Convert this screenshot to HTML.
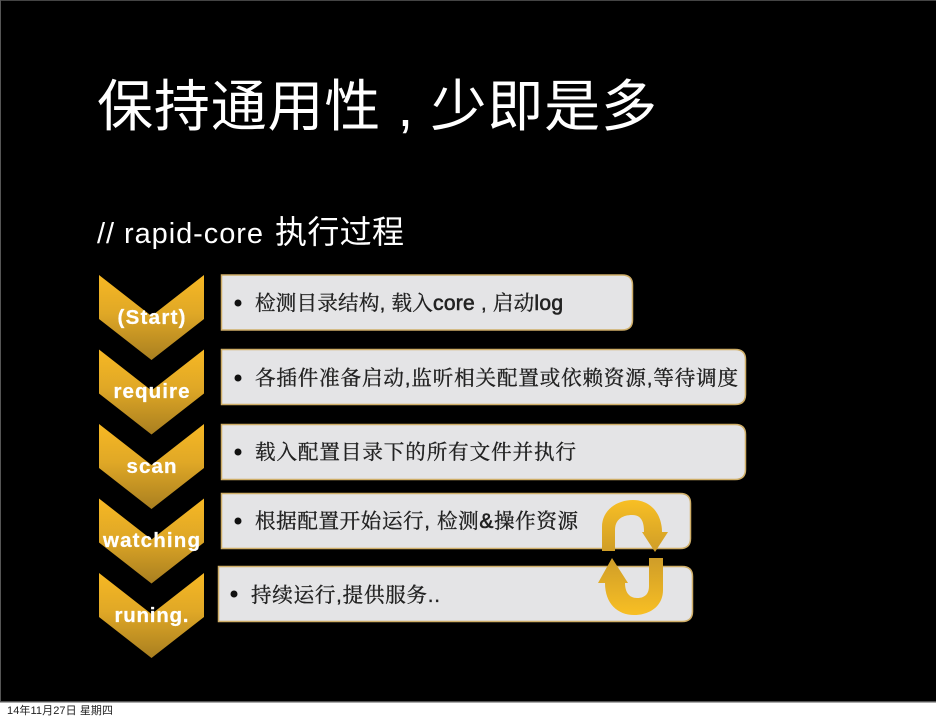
<!DOCTYPE html>
<html lang="zh">
<head>
<meta charset="utf-8">
<title>保持通用性，少即是多</title>
<style>
html,body{margin:0;padding:0;background:#fff;width:936px;height:720px;overflow:hidden}
svg{display:block}
.cn{font-family:"Liberation Sans","Noto Sans CJK SC",sans-serif}
.body{font-family:"Liberation Sans","Noto Serif CJK SC",serif;font-size:20.500px;fill:#222;stroke:#222;stroke-width:.35px}
.lat{font-size:21px;stroke-width:.6px}
.lab{font-family:"Liberation Sans",sans-serif;font-weight:bold;font-size:20.500px;fill:#fff;text-anchor:middle;stroke:#fff;stroke-width:.25px}
.soft{filter:blur(.35px)}
</style>
</head>
<body>
<svg width="936" height="720" viewBox="0 0 936 720" xmlns="http://www.w3.org/2000/svg">
<defs>
<linearGradient id="g" x1="0" y1="0" x2="0" y2="1">
<stop offset="0" stop-color="#f7b824"/><stop offset="0.45" stop-color="#e0a826"/><stop offset="1" stop-color="#a97f20"/>
</linearGradient>
<linearGradient id="a" x1="0" y1="0" x2="0" y2="1">
<stop offset="0" stop-color="#f8bf24"/><stop offset="1" stop-color="#cf9d28"/>
</linearGradient>
<linearGradient id="b" x1="0" y1="1" x2="0" y2="0">
<stop offset="0" stop-color="#f8bf24"/><stop offset="1" stop-color="#cf9d28"/>
</linearGradient>
<path id="ch" d="M99 0 L151.500 41 L204 0 V44 L151.500 85 L99 44 Z" fill="url(#g)"/>
</defs>
<rect x="0" y="0" width="936" height="702" fill="#000"/>
<rect x="0" y="0" width="936" height="1" fill="#444"/>
<rect x="0" y="0" width="1" height="702" fill="#555"/>
<rect x="0" y="701" width="936" height="1.500" fill="#555"/>

<g class="soft">
<text class="cn" x="97" y="126" font-size="56" fill="#fff" textLength="560" lengthAdjust="spacing">保持通用性 , 少即是多</text>
<text class="cn" x="97" y="243" font-size="29" fill="#fff" textLength="166" lengthAdjust="spacing">// rapid-core</text>
<text class="cn" x="275" y="243" font-size="32" fill="#fff" textLength="129" lengthAdjust="spacing">执行过程</text>

<use href="#ch" y="275"/>
<use href="#ch" y="349.500"/>
<use href="#ch" y="424"/>
<use href="#ch" y="498.500"/>
<use href="#ch" y="573"/>

<g fill="#e4e4e6" stroke="#cfae68" stroke-width="1.500">
<path d="M221.500 275 H622 Q632.500 275 632.500 285 V320 Q632.500 330 622 330 H221.500 Z"/>
<path d="M221.500 349.500 H735 Q745.500 349.500 745.500 359.500 V394.500 Q745.500 404.500 735 404.500 H221.500 Z"/>
<path d="M221.500 424.500 H735 Q745.500 424.500 745.500 434.500 V469.500 Q745.500 479.500 735 479.500 H221.500 Z"/>
<path d="M221.500 493.500 H680 Q690.500 493.500 690.500 503.500 V538.500 Q690.500 548.500 680 548.500 H221.500 Z"/>
<path d="M218.500 566.500 H682 Q692.500 566.500 692.500 576.500 V611.500 Q692.500 621.500 682 621.500 H218.500 Z"/>
</g>

<g fill="#111">
<circle cx="238" cy="303" r="3.500"/>
<circle cx="238" cy="378" r="3.500"/>
<circle cx="238" cy="452" r="3.500"/>
<circle cx="238" cy="521" r="3.500"/>
<circle cx="234" cy="594" r="3.500"/>
</g>

<text class="body" x="255" y="310" textLength="308" lengthAdjust="spacing">检测目录结构, 载入<tspan class="lat">core</tspan> , 启动<tspan class="lat">log</tspan></text>
<text class="body" x="255" y="385" textLength="483" lengthAdjust="spacing">各插件准备启动,监听相关配置或依赖资源,等待调度</text>
<text class="body" x="255" y="459" textLength="321" lengthAdjust="spacing">载入配置目录下的所有文件并执行</text>
<text class="body" x="255" y="528" textLength="323" lengthAdjust="spacing">根据配置开始运行, 检测<tspan class="lat">&amp;</tspan>操作资源</text>
<text class="body" x="251" y="602" textLength="189" lengthAdjust="spacing">持续运行,提供服务..</text>

<text class="lab" x="151.500" y="324" textLength="68" lengthAdjust="spacing">(Start)</text>
<text class="lab" x="151.500" y="398" textLength="76" lengthAdjust="spacing">require</text>
<text class="lab" x="151.500" y="473" textLength="50" lengthAdjust="spacing">scan</text>
<text class="lab" x="151.500" y="547" textLength="97" lengthAdjust="spacing">watching</text>
<text class="lab" x="151.500" y="622" textLength="74" lengthAdjust="spacing">runing.</text>

<path d="M602 551 V527 C602 510 617 500 633 500 C650 500 662 513 662 532 H668 L655 552 L642 532 H644 C644 521 641 515 632 515 C622 515 615 520 615 530 V551 Z" fill="url(#a)"/>
<path d="M663 558 V590 C663 606 650 615 634 615 C618 615 605 604 605 583 H598 L612 558 L628 583 H625 C625 592 629 598 637 598 C645 598 649 594 649 586 V558 Z" fill="url(#b)"/>

<text class="cn" x="7" y="714" font-size="11" fill="#222" textLength="106" lengthAdjust="spacing">14年11月27日 星期四</text>
</g>
</svg>
</body>
</html>
